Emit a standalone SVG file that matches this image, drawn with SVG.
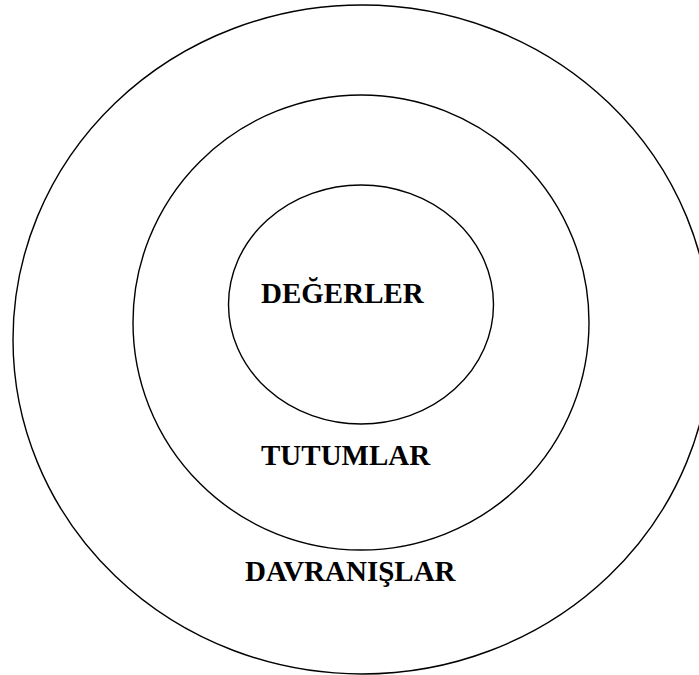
<svg xmlns="http://www.w3.org/2000/svg" width="699" height="675" viewBox="0 0 699 675">
<style>
.ring{fill:none;stroke:#000;stroke-width:1.4}
.lbl{font-family:"Liberation Serif","Times New Roman",serif;font-weight:bold;font-size:29px;fill:#000}
</style>
<rect width="699" height="675" fill="#fff"/>
<g id="davranislar">
<ellipse class="ring" cx="362" cy="339.5" rx="349" ry="334.5"/>
<text class="lbl" x="245" y="581">DAVRANIŞLAR</text>
</g>
<g id="tutumlar">
<ellipse class="ring" cx="361" cy="322.5" rx="228" ry="227.5"/>
<text class="lbl" x="261" y="465">TUTUMLAR</text>
</g>
<g id="degerler">
<ellipse class="ring" cx="361" cy="304.5" rx="132.5" ry="119.5"/>
<text class="lbl" x="261" y="303">DEĞERLER</text>
</g>
<g id="connectors"/>
</svg>
